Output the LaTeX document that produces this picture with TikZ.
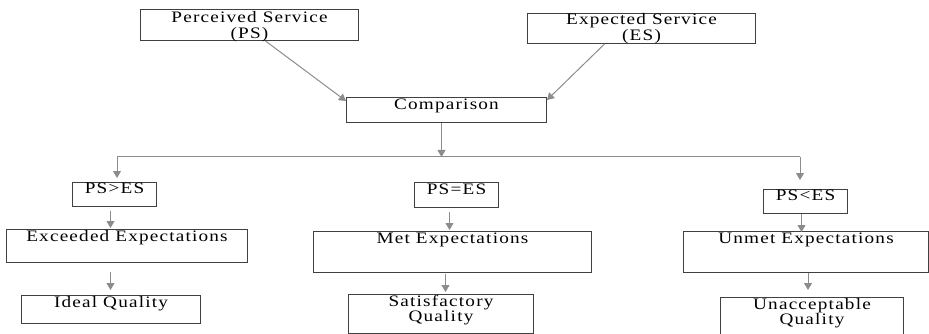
\documentclass[tikz,border=0pt]{standalone}
\usepackage{fontspec}
\setmainfont{Liberation Serif}[FakeStretch=1.2,LetterSpace=7.5]
\usetikzlibrary{arrows.meta}
\begin{document}
\begin{tikzpicture}[x=1pt,y=-1pt]
\tikzset{boite/.style={draw=black!75, line width=1pt, anchor=north west, inner xsep=0pt, inner ysep=0pt, font=\fontsize{16}{15.5}\selectfont, align=center},
fleche/.style={draw=black!45, line width=1pt, -{Triangle[width=8pt,length=7pt]}}}
\useasboundingbox (0,0) rectangle (929,334);
\node[boite, minimum width=218pt, text height=29pt, text depth=2pt] (PS) at (140,9) {Perceived Service\\(PS)};
\node[boite, minimum width=228pt, text height=27pt, text depth=3pt] (ES) at (527,13) {Expected Service\\(ES)};
\node[boite, minimum width=200pt, text height=12.5pt, text depth=12.5pt] (C) at (346,97) {Comparison};
\node[boite, minimum width=84pt, text height=11.3pt, text depth=12.7pt] (G1) at (72,182) {PS>ES};
\node[boite, minimum width=84pt, text height=12pt, text depth=13pt] (G2) at (414,182) {PS=ES};
\node[boite, minimum width=84pt, text height=11pt, text depth=13pt] (G3) at (763,189) {PS<ES};
\node[boite, minimum width=241pt, text height=11.7pt, text depth=21.3pt] (E1) at (6,229) {Exceeded Expectations};
\node[boite, minimum width=278pt, text height=11.7pt, text depth=29.3pt] (E2) at (313,231) {Met Expectations};
\node[boite, minimum width=245pt, text height=12.3pt, text depth=28.7pt] (E3) at (683,231) {Unmet Expectations};
\node[boite, minimum width=179pt, text height=12.3pt, text depth=15.7pt] (Q1) at (21,295) {Ideal Quality};
\node[boite, minimum width=185pt, text height=27pt, text depth=12pt] (Q2) at (348,294) {Satisfactory\\Quality};
\node[boite, minimum width=183pt, text height=27pt, text depth=10pt] (Q3) at (720,297) {Unacceptable\\Quality};
\coordinate (L) at (117,157);
\coordinate (R) at (800,157);
\draw[fleche] ([xshift=16pt]PS.south) -- ([yshift=-4pt]C.north west);
\draw[fleche] ([xshift=-37pt]ES.south) -- ([yshift=-3pt]C.north east);
\draw[fleche] ([xshift=-5pt]C.south) -- ([xshift=-5pt]C.south |- L);
\draw[draw=black!45, line width=1pt] (L) -- (R);
\draw[fleche, shorten >=4pt] (L) -- (L |- G1.north);
\draw[fleche, shorten >=9pt] (R) -- (R |- G3.north);
\draw[fleche, shorten <=4pt, shorten >=1pt] ([xshift=-4pt]G1.south) -- ([xshift=-4pt]G1.south |- E1.north);
\draw[fleche, shorten <=9pt, shorten >=5pt] ([xshift=-16.5pt]E1.south) -- ([xshift=-16.5pt]E1.south |- Q1.north);
\draw[fleche, shorten <=4pt, shorten >=1pt] ([xshift=-7pt]G2.south) -- ([xshift=-7pt]G2.south |- E2.north);
\draw[fleche, shorten <=1pt, shorten >=2pt] ([xshift=-7pt]E2.south) -- ([xshift=-7pt]E2.south |- Q2.north);
\draw[fleche, shorten >=-1pt] ([xshift=-4pt]G3.south) -- ([xshift=-4pt]G3.south |- E3.north);
\draw[fleche, shorten >=7pt] ([xshift=2pt]E3.south) -- ([xshift=2pt]E3.south |- Q3.north);
\end{tikzpicture}
\end{document}
